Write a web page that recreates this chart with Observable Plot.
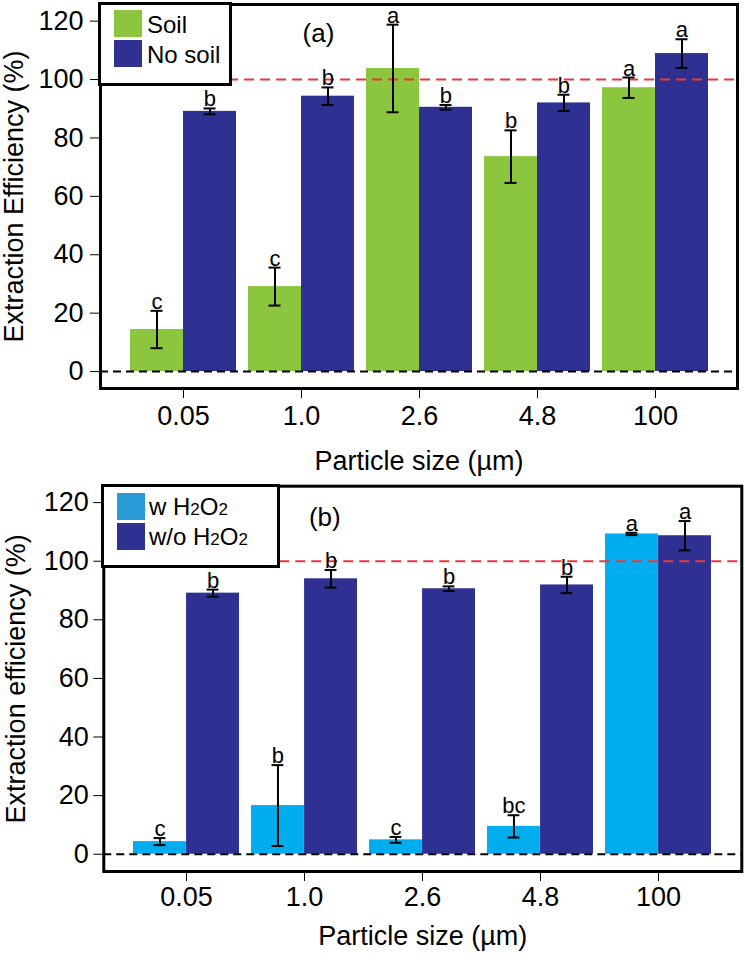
<!DOCTYPE html>
<html>
<head>
<meta charset="utf-8">
<script src="https://cdn.jsdelivr.net/npm/d3@7"></script>
<script src="https://cdn.jsdelivr.net/npm/@observablehq/plot@0.6"></script>
<style>
  html, body { margin: 0; padding: 0; background: #fff; }
  #wrap { position: relative; width: 745px; height: 960px; font-family: "Liberation Sans", Arial, sans-serif; }
  #wrap svg { display: block; }
  .lg { position: absolute; background: #fff; border: 3px solid #000; box-sizing: border-box; }
  .sw { position: absolute; width: 28px; height: 27px; }
  .lt { position: absolute; font-size: 24px; line-height: 24px; white-space: nowrap; color: #000; }
  .lt .s { font-size: 17px; }
</style>
</head>
<body>
<div id="wrap">
  <div id="pa"></div>
  <div id="pb"></div>
  <div class="lg" style="left:98px;top:2px;width:134px;height:84px"></div>
  <div class="sw" style="left:114px;top:10px;background:#8cc63f"></div>
  <div class="sw" style="left:114px;top:40px;background:#2e3192"></div>
  <div class="lt" style="left:147px;top:13px">Soil</div>
  <div class="lt" style="left:147px;top:43px">No soil</div>

  <div class="lg" style="left:101px;top:484px;width:179px;height:84px"></div>
  <div class="sw" style="left:117px;top:493px;background:#2a9ad6"></div>
  <div class="sw" style="left:117px;top:523px;background:#2e3192"></div>
  <div class="lt" style="left:149px;top:495px">w H<span class="s">2</span>O<span class="s">2</span></div>
  <div class="lt" style="left:149px;top:525px">w/o H<span class="s">2</span>O<span class="s">2</span></div>
</div>
<script>
const categories = ["0.05", "1.0", "2.6", "4.8", "100"];
const yTicks = [0, 20, 40, 60, 80, 100, 120];

// Panel (a)
const soilMean = [14.4, 29.1, 103.8, 73.6, 97.2];
const soilErr = [6.4, 6.5, 15.0, 9.0, 3.5];
const soilLetters = ["c", "c", "a", "b", "a"];
const noSoilMean = [89.1, 94.3, 90.5, 92.0, 108.9];
const noSoilErr = [1.0, 3.0, 0.8, 2.8, 4.9];
const noSoilLetters = ["b", "b", "b", "b", "a"];

// Panel (b)
const h2o2Mean = [4.3, 16.6, 4.9, 9.5, 109.3];
const h2o2Err = [1.2, 13.8, 1.0, 3.8, 0.4];
const h2o2Letters = ["c", "b", "c", "bc", "a"];
const noH2o2Mean = [89.1, 94.0, 90.6, 91.9, 108.7];
const noH2o2Err = [1.2, 3.0, 0.8, 2.8, 5.0];
const noH2o2Letters = ["b", "b", "b", "b", "a"];

function rows(mean, err, letters) {
  return categories.map((c, i) => ({cat: c, mean: mean[i], lo: mean[i] - err[i], hi: mean[i] + err[i], letter: letters[i]}));
}

function panel(cfg) {
  const W = 745;
  const xOpts = {type: "band", domain: categories, range: [cfg.marginLeft, W - cfg.marginRight], paddingInner: 0.105, paddingOuter: 0.242};
  const bw = Plot.scale({x: xOpts}).bandwidth;
  const L = cfg.left, R = cfg.right;
  const errMarks = (D, side) => {
    const c = side < 0 ? bw / 4 : 3 * bw / 4;
    const il = c - 6, ir = bw - c - 6;
    return [
      Plot.ruleX(D, {x: "cat", y1: "lo", y2: "hi", dx: side * bw / 4, stroke: "#000", strokeWidth: 2}),
      Plot.tickY(D, {x: "cat", y: "hi", insetLeft: il, insetRight: ir, stroke: "#000", strokeWidth: 2}),
      Plot.tickY(D, {x: "cat", y: "lo", insetLeft: il, insetRight: ir, stroke: "#000", strokeWidth: 2}),
      Plot.text(D, {x: "cat", y: "hi", text: "letter", dx: side * bw / 4, dy: -2, lineAnchor: "bottom", fontSize: 22, fill: "#000"})
    ];
  };
  return Plot.plot({
    width: W,
    height: cfg.height,
    marginTop: cfg.marginTop,
    marginBottom: cfg.marginBottom,
    marginLeft: cfg.marginLeft,
    marginRight: cfg.marginRight,
    style: {fontFamily: "Liberation Sans, Arial, sans-serif", fontSize: "27px", color: "#000", background: "transparent"},
    x: {...xOpts, tickSize: 10, tickPadding: cfg.xTickPadding, label: "Particle size (µm)", labelAnchor: "center", labelOffset: cfg.xLabelOffset, labelArrow: "none"},
    y: {domain: cfg.yDomain, ticks: yTicks, tickSize: 10, tickPadding: cfg.yTickPadding, label: cfg.ylabel, labelAnchor: "center", labelOffset: cfg.yLabelOffset, labelArrow: "none"},
    marks: [
      Plot.barY(L.data, {x: "cat", y: "mean", fill: L.color, insetLeft: 0, insetRight: bw / 2}),
      Plot.barY(R.data, {x: "cat", y: "mean", fill: R.color, insetLeft: bw / 2, insetRight: 0}),
      Plot.ruleY([100], {stroke: "#e8393a", strokeWidth: 2, strokeDasharray: "10,6"}),
      Plot.ruleY([0], {stroke: "#000", strokeWidth: 2, strokeDasharray: "8,5"}),
      ...errMarks(L.data, -1),
      ...errMarks(R.data, 1),
      Plot.text([cfg.tag], {frameAnchor: "top-left", dx: cfg.tagDx, dy: cfg.tagDy, textAnchor: "middle", lineAnchor: "middle", fontSize: 26, fill: "#000"}),
      Plot.frame({stroke: "#000", strokeWidth: 3})
    ]
  });
}

const a = panel({
  height: 478, marginTop: 4, marginBottom: 90, marginLeft: 100, marginRight: 8,
  yDomain: [-5.8, 125.7], ylabel: "Extraction Efficiency (%)",
  xTickPadding: 7, yTickPadding: 7, xLabelOffset: 81, yLabelOffset: 97,
  tag: "(a)", tagDx: 218, tagDy: 29,
  left: {data: rows(soilMean, soilErr, soilLetters), color: "#8cc63f"},
  right: {data: rows(noSoilMean, noSoilErr, noSoilLetters), color: "#2e3192"}
});
const b = panel({
  height: 482, marginTop: 7.7, marginBottom: 89, marginLeft: 103.3, marginRight: 3.7,
  yDomain: [-5.9, 125.6], ylabel: "Extraction efficiency (%)",
  xTickPadding: 5, yTickPadding: 5, xLabelOffset: 73, yLabelOffset: 98,
  tag: "(b)", tagDx: 221, tagDy: 31,
  left: {data: rows(h2o2Mean, h2o2Err, h2o2Letters), color: "#00aeef"},
  right: {data: rows(noH2o2Mean, noH2o2Err, noH2o2Letters), color: "#2e3192"}
});
document.getElementById("pa").appendChild(a);
document.getElementById("pb").appendChild(b);
</script>
</body>
</html>
